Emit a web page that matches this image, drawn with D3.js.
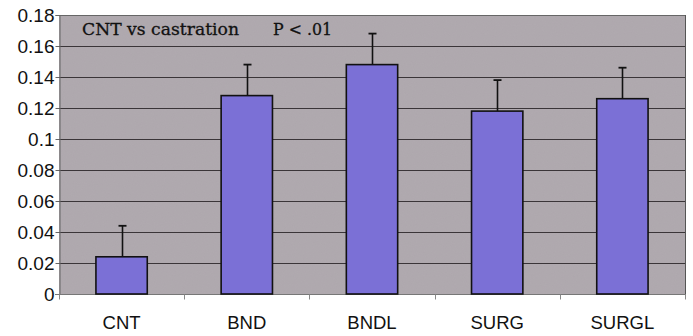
<!DOCTYPE html>
<html><head><meta charset="utf-8">
<script src="https://cdn.jsdelivr.net/npm/d3@7"></script>
<style>body{margin:0;background:#fff}svg{display:block}</style>
</head><body>
<svg id="c" width="693" height="336"></svg>
<script>
const categories = ["CNT","BND","BNDL","SURG","SURGL"];
const means = [0.024,0.128,0.148,0.118,0.126];
const errors = [0.020,0.020,0.020,0.020,0.020];
const yTicks = [0,0.02,0.04,0.06,0.08,0.1,0.12,0.14,0.16,0.18];
const yTickLabels = ["0","0.02","0.04","0.06","0.08","0.1","0.12","0.14","0.16","0.18"];
const title = "CNT vs castration";
const pText = "P < .01";

const svg = d3.select("#c");
const m = {l:59, r:685, t:15, b:294};
const x = d3.scaleBand().domain(categories).range([m.l,m.r]).paddingInner(0.59).paddingOuter(0.295);
const y = d3.scaleLinear().domain([0,0.18]).range([m.b,m.t]);

// noise texture
const defs = svg.append("defs");
const f = defs.append("filter").attr("id","noise").attr("x",0).attr("y",0).attr("width","100%").attr("height","100%");
f.append("feTurbulence").attr("type","fractalNoise").attr("baseFrequency",0.9).attr("numOctaves",2).attr("seed",3).attr("result","t");
f.append("feColorMatrix").attr("in","t").attr("type","matrix")
 .attr("values","0 0 0 0 0.5  0 0 0 0 0.5  0 0 0 0 0.5  0 0 0 0.5 0").attr("result","n");
f.append("feComposite").attr("in","n").attr("in2","SourceGraphic").attr("operator","in");

svg.append("rect").attr("x",m.l).attr("y",m.t).attr("width",m.r-m.l).attr("height",m.b-m.t).attr("fill","#aea7ad");
svg.append("rect").attr("x",m.l).attr("y",m.t).attr("width",m.r-m.l).attr("height",m.b-m.t).attr("fill","#aea7ad").attr("filter","url(#noise)").attr("opacity",0.35);

// gridlines
svg.append("g").selectAll("line").data(yTicks.filter(d=>d>0)).join("line")
 .attr("x1",m.l).attr("x2",m.r).attr("y1",d=>Math.round(y(d))+0.5).attr("y2",d=>Math.round(y(d))+0.5)
 .attr("stroke","#3a3538").attr("stroke-width",1);
// borders
svg.append("line").attr("x1",m.r+0.5).attr("x2",m.r+0.5).attr("y1",m.t).attr("y2",m.b).attr("stroke","#555").attr("stroke-width",1);
svg.append("line").attr("x1",m.l).attr("x2",m.r).attr("y1",m.t+0.5).attr("y2",m.t+0.5).attr("stroke","#666").attr("stroke-width",1);

// y axis
const ya = d3.axisLeft(y).tickValues(yTicks).tickFormat((d,i)=>yTickLabels[i]).tickSize(4).tickPadding(1);
const gy = svg.append("g").attr("transform",`translate(${m.l+0.5},0)`).call(ya);
gy.select(".domain").attr("stroke","#666");
gy.selectAll(".tick line").attr("stroke","#666");
gy.selectAll("text").attr("font-family","Arial, 'Liberation Sans', sans-serif").attr("font-size",19).attr("fill","#111");

// x axis with boundary ticks
const xa = svg.append("g").attr("transform",`translate(0,${m.b+0.5})`);
xa.append("line").attr("x1",m.l-4).attr("x2",m.r+1).attr("stroke","#777");
const bounds = d3.range(categories.length+1).map(i=>m.l + i*(m.r-m.l)/categories.length);
xa.selectAll("line.t").data(bounds).join("line").attr("class","t")
 .attr("x1",d=>Math.round(d)+0.5).attr("x2",d=>Math.round(d)+0.5).attr("y1",0).attr("y2",5).attr("stroke","#888");
xa.selectAll("text").data(categories).join("text")
 .attr("x",d=>x(d)+x.bandwidth()/2).attr("y",34).attr("text-anchor","middle")
 .attr("font-family","Arial, 'Liberation Sans', sans-serif").attr("font-size",18.5).attr("fill","#111").text(d=>d);

// error bars
const eb = svg.append("g");
categories.forEach((c,i)=>{
  const cx = Math.round(x(c)+x.bandwidth()/2)+0.5;
  eb.append("line").attr("x1",cx).attr("x2",cx).attr("y1",y(means[i])).attr("y2",y(means[i]+errors[i])).attr("stroke","#111").attr("stroke-width",1.6);
  eb.append("line").attr("x1",cx-4).attr("x2",cx+4).attr("y1",y(means[i]+errors[i])).attr("y2",y(means[i]+errors[i])).attr("stroke","#111").attr("stroke-width",1.8);
});

// bars
svg.append("g").selectAll("rect").data(categories).join("rect")
 .attr("x",d=>x(d)).attr("width",x.bandwidth())
 .attr("y",(d,i)=>y(means[i])).attr("height",(d,i)=>y(0)-y(means[i]))
 .attr("fill","#7b70d6").attr("stroke","#111").attr("stroke-width",1.6);

// annotation
const serif = "'DejaVu Serif','Liberation Serif',serif";
svg.append("text").attr("x",82).attr("y",35).attr("font-family",serif).attr("font-size",17)
 .attr("fill","#111").attr("stroke","#111").attr("stroke-width",0.3)
 .attr("textLength",157).attr("lengthAdjust","spacingAndGlyphs").text(title);
svg.append("text").attr("x",273).attr("y",35).attr("font-family",serif).attr("font-size",17)
 .attr("fill","#111").attr("stroke","#111").attr("stroke-width",0.3)
 .attr("textLength",59).attr("lengthAdjust","spacingAndGlyphs").text(pText);
</script>
</body></html>
